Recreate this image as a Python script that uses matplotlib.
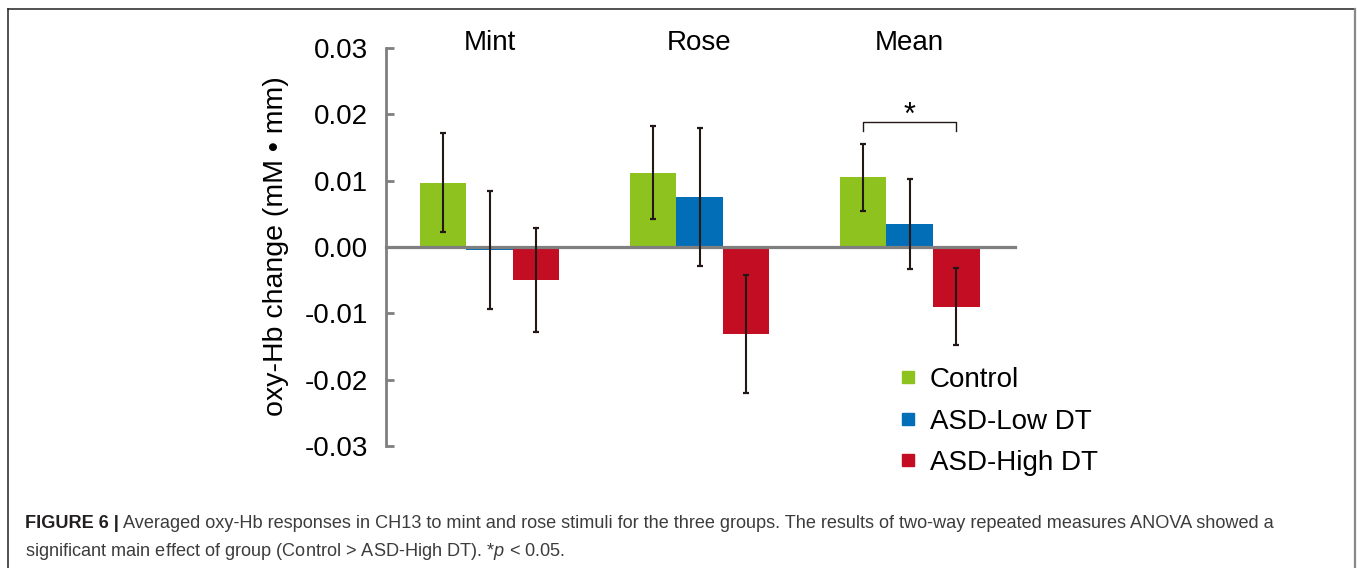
import matplotlib
matplotlib.use('Agg')
import matplotlib.pyplot as plt
import numpy as np
from matplotlib.lines import Line2D

plt.rcParams['font.family'] = ['Liberation Sans', 'DejaVu Sans']
plt.rcParams['mathtext.fontset'] = 'custom'
plt.rcParams['mathtext.it'] = 'Liberation Sans:italic'

# averaged oxy-Hb change (mM*mm) per stimulus, with error bars
stimuli = ['Mint', 'Rose', 'Mean']
groups = ['Control', 'ASD-Low DT', 'ASD-High DT']
colors = ['#8DC21F', '#036EB8', '#C30D23']

control_mean = [0.0097, 0.0112, 0.0105]
control_err = [0.0075, 0.0070, 0.0051]
low_mean = [-0.0005, 0.0076, 0.0035]
low_err = [0.0089, 0.0104, 0.0068]
high_mean = [-0.0050, -0.0131, -0.0090]
high_err = [0.0078, 0.0089, 0.0058]

yticks = [0.03, 0.02, 0.01, 0.00, -0.01, -0.02, -0.03]

W, H = 1357, 568
fig = plt.figure(figsize=(W / 100, H / 100), dpi=100)
ax = fig.add_axes([386 / W, 1 - 446 / H, (1015 - 386) / W, (446 - 48) / H])

x = np.arange(len(stimuli))
bw = 0.222
means = [control_mean, low_mean, high_mean]
errs = [control_err, low_err, high_err]
for i in range(3):
    pos = x + (i - 1) * bw
    ax.bar(pos, means[i], bw, color=colors[i], zorder=1)
    ax.errorbar(pos, means[i], yerr=errs[i], fmt='none', ecolor='#231815',
                elinewidth=1.5, capsize=2.3, capthick=1.6, zorder=3)

ax.set_xlim(-0.493, 2.502)
ax.set_ylim(-0.03, 0.03)
ax.set_yticks(yticks)
ax.set_yticklabels(['%.2f' % t for t in yticks])
ax.set_xticks([])

gray = '#7f7f7f'
ax.spines['top'].set_visible(False)
ax.spines['right'].set_visible(False)
ax.spines['left'].set_color(gray)
ax.spines['left'].set_linewidth(2.0)
ax.spines['bottom'].set_position(('data', 0))
ax.spines['bottom'].set_color(gray)
ax.spines['bottom'].set_linewidth(2.3)
ax.tick_params(axis='y', direction='in', length=6, width=2.0, color=gray,
               labelsize=20, pad=13)

for xi, name in zip(x, stimuli):
    ax.text(xi, 0.0307, name, ha='center', va='center', fontsize=20)

# significance bracket between Control and ASD-High DT on the mean
bx0, bx1 = x[2] - bw, x[2] + bw
ax.plot([bx0, bx0, bx1, bx1], [0.0175, 0.0188, 0.0188, 0.0175],
        color='#231815', lw=1.0, zorder=3)
ax.text(x[2], 0.0198, '*', ha='center', va='center', fontsize=22)

fig.text(276 / W, 1 - 246 / H, 'oxy-Hb change (mM \u2022 mm)', rotation=90,
         ha='center', va='center', fontsize=20.5)

handles = [Line2D([], [], marker='s', ls='', color=c, markersize=8) for c in colors]
fig.legend(handles, groups, loc='upper left', bbox_to_anchor=(894 / W, 1 - 367 / H),
           frameon=False, fontsize=20, handletextpad=0.3, labelspacing=0.56,
           handlelength=1.0, borderaxespad=0, borderpad=0)

# frame around the figure panel
fig.add_artist(Line2D([8 / W, 8 / W], [0, 1 - 9 / H], transform=fig.transFigure,
                      color='#222222', lw=1.1))
fig.add_artist(Line2D([8 / W, 1355 / W], [1 - 9 / H, 1 - 9 / H],
                      transform=fig.transFigure, color='#222222', lw=1.1))
fig.add_artist(Line2D([1355 / W, 1355 / W], [0, 1 - 9 / H], transform=fig.transFigure,
                      color='#888888', lw=1.6))

# caption
cap_font = ['Liberation Sans', 'DejaVu Sans']
cap_size = 13.1
r = fig.canvas.get_renderer()
t1 = fig.text(25 / W, 1 - 523 / H, 'FIGURE 6 |', fontweight='bold', va='center',
              fontsize=cap_size, family=cap_font, color='#231f20')
ext = t1.get_window_extent(r)
fig.text((ext.x1 + 4) / W, 1 - 523 / H,
         'Averaged oxy-Hb responses in CH13 to mint and rose stimuli for the three groups. '
         'The results of two-way repeated measures ANOVA showed a',
         va='center', fontsize=cap_size, family=cap_font, color='#3c3c3c')
fig.text(25 / W, 1 - 551 / H,
         'significant main effect of group (Control > ASD-High DT). *$p$ < 0.05.',
         va='center', fontsize=cap_size, family=cap_font, color='#3c3c3c')

fig.savefig('out.png', dpi=100)
